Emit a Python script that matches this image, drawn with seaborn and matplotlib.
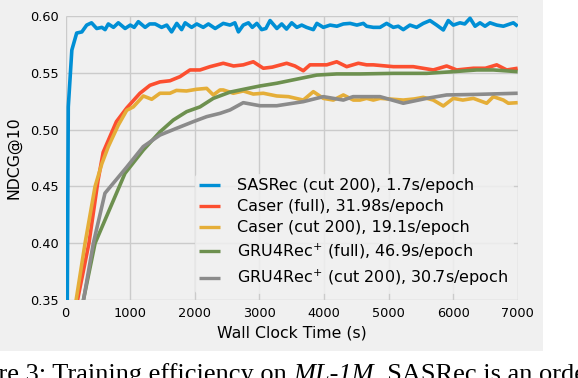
import matplotlib
matplotlib.use("Agg")
import matplotlib.pyplot as plt
import seaborn as sns
import pandas as pd
from matplotlib.patches import Rectangle

# ---------------- data ----------------
labels = [
    "SASRec (cut 200), 1.7s/epoch",
    "Caser (full), 31.98s/epoch",
    "Caser (cut 200), 19.1s/epoch",
    "GRU4Rec$^{+}$ (full), 46.9s/epoch",
    "GRU4Rec$^{+}$ (cut 200), 30.7s/epoch",
]
colors = ["#008fd5", "#fc4f30", "#e5ae38", "#6d904f", "#8b8b8b"]

sas_t = [20, 40, 95, 170, 250, 325, 400, 480, 560, 610, 660, 740, 815, 920, 1000, 1060,
         1125, 1230, 1300, 1385, 1485, 1565, 1640, 1720, 1795, 1850, 1950, 2030, 2130,
         2210, 2315, 2440, 2545, 2620, 2675, 2750, 2830, 2890, 2960, 3035, 3100, 3165,
         3270, 3345, 3420, 3500, 3580, 3655, 3730, 3835, 3890, 3990, 4095, 4200, 4300,
         4405, 4510, 4610, 4660, 4764, 4868, 4970, 5074, 5150, 5228, 5331, 5434, 5538,
         5641, 5745, 5848, 5925, 6003, 6106, 6180, 6262, 6340, 6416, 6494, 6571, 6675,
         6778, 6881, 6933, 7000]
sas_v = [0.300, 0.520, 0.570, 0.585, 0.586, 0.592, 0.594, 0.589, 0.590, 0.588, 0.593,
         0.590, 0.594, 0.589, 0.592, 0.590, 0.595, 0.590, 0.593, 0.593, 0.590, 0.592,
         0.586, 0.5935, 0.588, 0.594, 0.590, 0.593, 0.590, 0.593, 0.589, 0.5935, 0.592,
         0.594, 0.586, 0.592, 0.594, 0.590, 0.5935, 0.588, 0.589, 0.596, 0.589, 0.593,
         0.5885, 0.594, 0.590, 0.592, 0.590, 0.588, 0.5935, 0.590, 0.592, 0.591, 0.593,
         0.5935, 0.592, 0.5935, 0.591, 0.590, 0.590, 0.5935, 0.590, 0.591, 0.588, 0.592,
         0.590, 0.5935, 0.596, 0.592, 0.5877, 0.596, 0.592, 0.594, 0.593, 0.598, 0.591,
         0.594, 0.591, 0.594, 0.592, 0.591, 0.593, 0.594, 0.591]

caser_full_t = [130, 360, 500, 580, 785, 945, 1150, 1305, 1460, 1615, 1770, 1925, 2080,
                2235, 2440, 2600, 2750, 2905, 3060, 3200, 3422, 3550, 3680, 3783, 4042,
                4197, 4352, 4532, 4660, 4764, 5074, 5383, 5693, 5900, 6055, 6313, 6500,
                6675, 6830, 7000]
caser_full_v = [0.335, 0.400, 0.455, 0.480, 0.507, 0.519, 0.532, 0.539, 0.542, 0.543,
                0.5466, 0.5525, 0.5525, 0.5554, 0.5584, 0.556, 0.557, 0.5597, 0.554,
                0.555, 0.5584, 0.556, 0.5518, 0.557, 0.557, 0.5597, 0.5554, 0.5584,
                0.557, 0.557, 0.5554, 0.5554, 0.5525, 0.556, 0.5525, 0.554, 0.554,
                0.557, 0.5525, 0.554]

caser_cut_t = [120, 300, 455, 560, 660, 815, 945, 1047, 1202, 1332, 1460, 1615, 1715,
               1870, 2028, 2183, 2286, 2390, 2440, 2596, 2750, 2905, 3060, 3268, 3450,
               3680, 3835, 3990, 4145, 4300, 4455, 4558, 4660, 4764, 4868, 5000, 5228,
               5400, 5538, 5693, 5848, 6003, 6150, 6313, 6520, 6623, 6778, 6855, 7000]
caser_cut_v = [0.335, 0.400, 0.450, 0.470, 0.485, 0.504, 0.517, 0.520, 0.5296, 0.5267,
               0.532, 0.532, 0.5345, 0.534, 0.5355, 0.5363, 0.5305, 0.5349, 0.5349,
               0.532, 0.534, 0.5313, 0.532, 0.5296, 0.529, 0.526, 0.5334, 0.5275, 0.526,
               0.5305, 0.526, 0.526, 0.5275, 0.526, 0.5275, 0.527, 0.526, 0.527, 0.5284,
               0.526, 0.5208, 0.5275, 0.526, 0.5275, 0.5232, 0.529, 0.526, 0.5232, 0.5237]

gru_full_t = [220, 455, 918, 1202, 1460, 1666, 1873, 2080, 2286, 2545, 2800, 3009, 3268,
              3629, 3887, 4197, 4558, 5074, 5590, 6003, 6365, 6623, 7000]
gru_full_v = [0.335, 0.400, 0.4615, 0.482, 0.498, 0.5084, 0.5158, 0.520, 0.5275, 0.533,
              0.536, 0.5384, 0.5408, 0.545, 0.548, 0.549, 0.549, 0.5495, 0.5495, 0.551,
              0.5525, 0.5525, 0.551]

gru_cut_t = [230, 428, 608, 945, 1200, 1460, 1715, 1976, 2183, 2390, 2545, 2750, 3009,
             3268, 3680, 3990, 4300, 4450, 4868, 5228, 5590, 5900, 6365, 7000]
gru_cut_v = [0.335, 0.400, 0.444, 0.467, 0.485, 0.4952, 0.5011, 0.507, 0.5114, 0.5143,
             0.5173, 0.5237, 0.521, 0.521, 0.5246, 0.529, 0.526, 0.529, 0.529, 0.5232,
             0.5275, 0.5305, 0.531, 0.532]

x_ticks = [0, 1000, 2000, 3000, 4000, 5000, 6000, 7000]
y_ticks = [0.35, 0.40, 0.45, 0.50, 0.55, 0.60]

caption_parts = ["Figure 3: Training efficiency on ", "ML-1M",
                 ". SASRec is an order of magnitude faster"]

series = [(sas_t, sas_v), (caser_full_t, caser_full_v), (caser_cut_t, caser_cut_v),
          (gru_full_t, gru_full_v), (gru_cut_t, gru_cut_v)]
frames = []
for lab, (t, v) in zip(labels, series):
    frames.append(pd.DataFrame({"time": t, "ndcg": v, "model": lab}))
df = pd.concat(frames, ignore_index=True)

# ---------------- style ----------------
plt.style.use("fivethirtyeight")
plt.rcParams["font.family"] = ["DejaVu Sans"]

W, H = 578, 378
fig = plt.figure(figsize=(W / 100, H / 100), dpi=100, facecolor="white")
fig.patches.append(Rectangle((0, 1 - 351 / H), 543 / W, 351 / H, transform=fig.transFigure,
                             facecolor="#f0f0f0", edgecolor="none", zorder=-10))

ax = fig.add_axes([65.7 / W, 78 / H, 452 / W, 284 / H])
ax.set_facecolor("#f0f0f0")

sns.lineplot(data=df, x="time", y="ndcg", hue="model", hue_order=labels,
             palette=colors, estimator=None, sort=False, linewidth=2.6, ax=ax)
for ln in ax.get_lines():
    ln.set_solid_capstyle("butt")

ax.set_xlim(0, 7000)
ax.set_ylim(0.35, 0.60)
ax.set_xticks(x_ticks)
ax.set_xticklabels([str(x) for x in x_ticks])
ax.set_yticks(y_ticks)
ax.set_yticklabels([f"{y:.2f}" for y in y_ticks])
ax.tick_params(labelsize=9.3, length=0, pad=5)
ax.grid(True, color="#cbcbcb", linewidth=1.0)
for s in ax.spines.values():
    s.set_visible(False)

ax.set_xlabel("Wall Clock Time (s)", fontsize=11.3, labelpad=4)
ax.set_ylabel("NDCG@10", fontsize=11.3, labelpad=6)

handles, _ = ax.get_legend_handles_labels()
leg = ax.legend(handles, labels, loc="lower right",
                bbox_to_anchor=(0.9896, 0.0246), borderaxespad=0,
                fontsize=11.5, handlelength=1.3, handletextpad=1.05,
                labelspacing=0.38, borderpad=0.3, frameon=True,
                fancybox=True, framealpha=0.85)
leg.get_frame().set_facecolor("#f0f0f0")
leg.get_frame().set_edgecolor("#f0f0f0")
for lh in leg.get_lines():
    lh.set_linewidth(2.4)

# caption (cut by the image edge, as in the reference)
base_y = 1 - 381 / H
cap_fs = 19
fig.canvas.draw()
r = fig.canvas.get_renderer()
x0 = -50 / W
styles = ["normal", "italic", "normal"]
for part, st in zip(caption_parts, styles):
    t = fig.text(x0, base_y, part, family="Liberation Serif", style=st,
                 fontsize=cap_fs, ha="left", va="baseline")
    bb = t.get_window_extent(renderer=r)
    x0 = bb.x1 / W

fig.savefig("out.png", dpi=100, facecolor="white")
